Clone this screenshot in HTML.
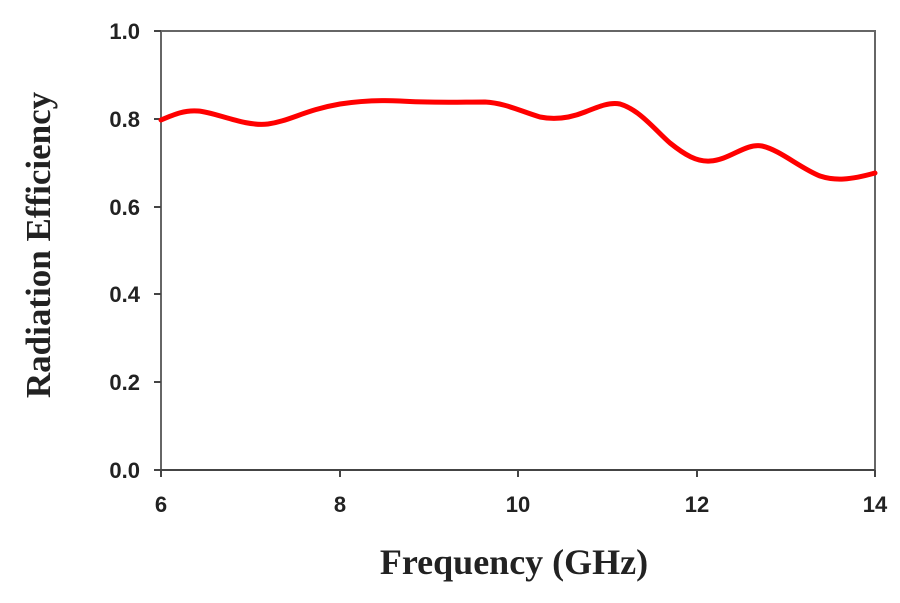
<!DOCTYPE html>
<html><head><style>body{margin:0;background:#fff}</style></head><body>
<svg width="900" height="598" xmlns="http://www.w3.org/2000/svg" font-family="Liberation Sans, sans-serif">
<rect width="900" height="598" fill="#fff"/>
<path d="M161,470 L161,31 L875,31 L875,470 Z" fill="none" stroke="#666" stroke-width="2"/>
<line x1="154" y1="470" x2="875" y2="470" stroke="#444" stroke-width="2"/>
<g stroke="#444" stroke-width="2">
<line x1="154" y1="31" x2="161" y2="31"/><line x1="154" y1="119" x2="161" y2="119"/><line x1="154" y1="207" x2="161" y2="207"/><line x1="154" y1="294" x2="161" y2="294"/><line x1="154" y1="382" x2="161" y2="382"/>
<line x1="161" y1="470" x2="161" y2="477"/><line x1="340" y1="470" x2="340" y2="477"/><line x1="518" y1="470" x2="518" y2="477"/><line x1="697" y1="470" x2="697" y2="477"/><line x1="875" y1="470" x2="875" y2="477"/>
</g>
<g font-size="22" font-weight="bold" fill="#222" text-anchor="end">
<text x="140" y="39">1.0</text><text x="140" y="127">0.8</text><text x="140" y="215">0.6</text><text x="140" y="302">0.4</text><text x="140" y="390">0.2</text><text x="140" y="478">0.0</text>
</g>
<g font-size="22" font-weight="bold" fill="#222" text-anchor="middle">
<text x="161" y="512">6</text><text x="340" y="512">8</text><text x="518" y="512">10</text><text x="697" y="512">12</text><text x="875" y="512">14</text>
</g>
<text x="514" y="574" text-anchor="middle" font-family="Liberation Serif, serif" font-weight="bold" font-size="36" fill="#222">Frequency (GHz)</text>
<text transform="translate(50,245) rotate(-90)" text-anchor="middle" font-family="Liberation Serif, serif" font-weight="bold" font-size="35" fill="#222">Radiation Efficiency</text>
<path d="M161,120 C175,114 185,110 198,111 C215,112 245,127 268,124 C290,121 305,110 340,104 C360,101 380,100 400,101 C430,103 460,102 485,102 C505,103 520,111 540,117 C555,120 570,118 585,112 C600,106 610,102 620,104 C640,110 655,130 670,143 C685,155 697,162 710,161 C730,160 745,143 762,146 C780,150 800,168 820,176 C835,181 850,180 875,173" fill="none" stroke="#f00" stroke-width="5" stroke-linecap="round"/>
</svg>
</body></html>
